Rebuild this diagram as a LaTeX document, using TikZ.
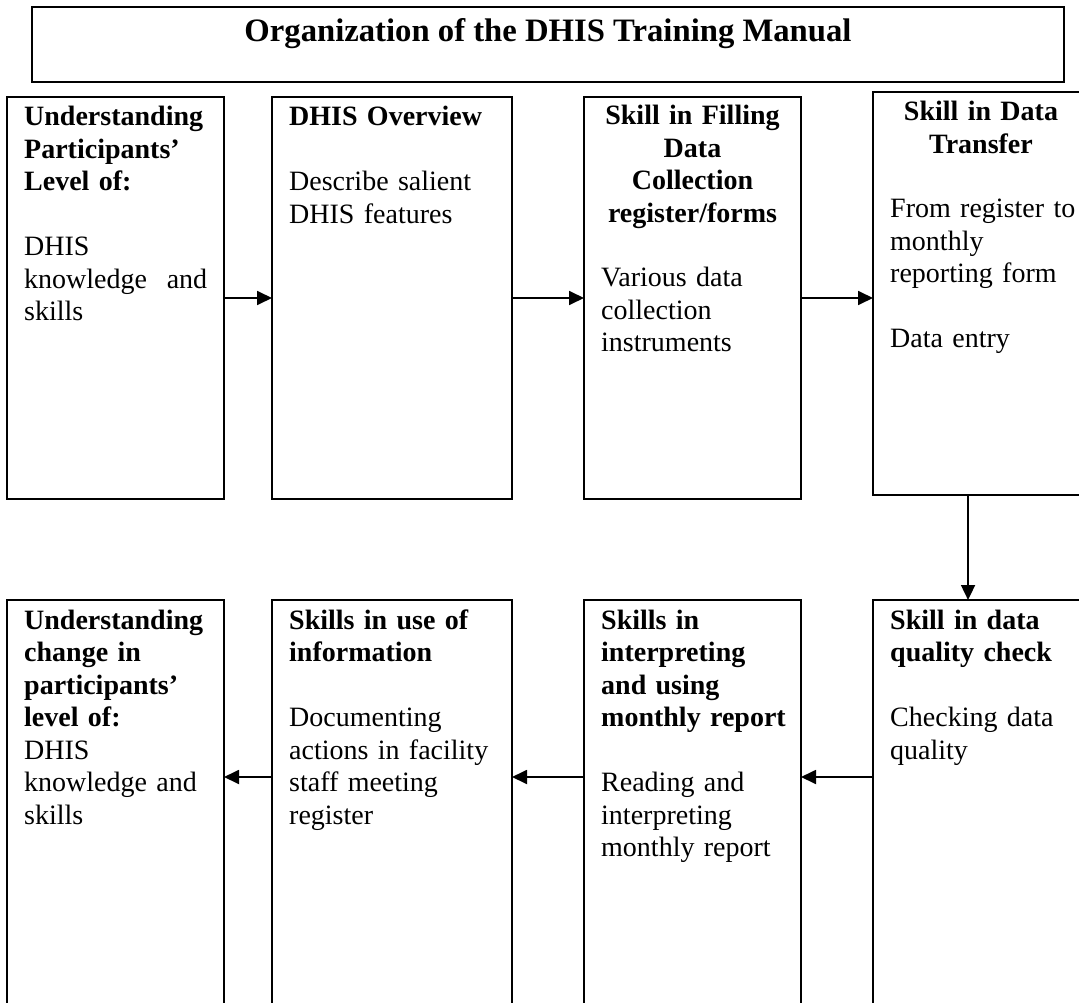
\documentclass[tikz,border=0pt]{standalone}
\usepackage{fontspec}
\setmainfont{Liberation Serif}
\usetikzlibrary{arrows.meta,calc}

\begin{document}
\begin{tikzpicture}[x=1pt,y=-1pt,
  box/.style={draw, line width=2pt, rectangle, inner sep=0pt, outer sep=0pt, anchor=north west},
  body/.style={anchor=base west, inner sep=0pt, align=left, text width=#1,
    font=\fontsize{28}{32.5}\selectfont},
  head/.style={anchor=base, inner sep=0pt, align=center, text width=#1,
    font=\fontsize{28}{32.5}\selectfont\bfseries},
  arr/.style={line width=1.8pt, -{Triangle[length=15pt,width=14pt]}},
]
\clip (0,0) rectangle (1079,1003);
\fill[white] (0,0) rectangle (1079,1003);

% title frame
\node[box, minimum width=1032pt, minimum height=75pt] (title) at (32,7) {};
\node[anchor=base, inner sep=0pt, font=\fontsize{32.7}{38}\selectfont\bfseries]
  (titletext) at ($(title.north)+(0,35)$) {Organization of the DHIS Training Manual};

% first row of stages
\node[box, minimum width=217pt, minimum height=402pt] (b1) at (7,97) {};
\node[box, minimum width=240pt, minimum height=402pt] (b2) at (272,97) {};
\node[box, minimum width=217pt, minimum height=402pt] (b3) at (584,97) {};
\node[box, minimum width=216pt, minimum height=403pt] (b4) at (873,92) {};

% second row of stages (running past the lower edge)
\node[box, minimum width=217pt, minimum height=420pt] (c1) at (7,600) {};
\node[box, minimum width=240pt, minimum height=420pt] (c2) at (272,600) {};
\node[box, minimum width=217pt, minimum height=420pt] (c3) at (584,600) {};
\node[box, minimum width=216pt, minimum height=420pt] (c4) at (873,600) {};

% texts, first row
\node[body=183pt] (t1) at (24,126) {\textbf{Understanding}\\ \textbf{Participants’}\\ \textbf{Level of:}\\[32.5pt]
  DHIS\\ knowledge\hfill and\\ skills};
\node[body=215pt] (t2) at (289,126) {\textbf{DHIS Overview}\\[32.5pt] Describe salient\\ DHIS features};
\node[head=210pt] (h3) at (692.5,125) {Skill in Filling\\ Data\\ Collection\\ register/forms};
\node[body=195pt] (t3) at (601,287) {Various data\\ collection\\ instruments};
\node[head=210pt] (h4) at (981,121) {Skill in Data\\ Transfer};
\node[body=210pt] (t4) at (890,218) {From register to\\ monthly\\ reporting form\\[32.5pt] Data entry};

% texts, second row
\node[body=195pt] (u1) at (24,629) {\textbf{Understanding}\\ \textbf{change in}\\ \textbf{participants’}\\ \textbf{level of:}\\
  DHIS\\ knowledge and\\ skills};
\node[body=215pt] (u2) at (289,629) {\textbf{Skills in use of}\\ \textbf{information}\\[32.5pt]
  Documenting\\ actions in facility\\ staff meeting\\ register};
\node[body=195pt] (u3) at (601,629) {\textbf{Skills in}\\ \textbf{interpreting}\\ \textbf{and using}\\ \textbf{monthly report}\\[32.5pt]
  Reading and\\ interpreting\\ monthly report};
\node[body=210pt] (u4) at (890,629) {\textbf{Skill in data}\\ \textbf{quality check}\\[32.5pt] Checking data\\ quality};

% connectors, first row
\draw[arr] (b1.east) -- (b2.west);
\draw[arr] (b2.east) -- (b3.west);
\draw[arr] (b3.east) -- (b3.east -| b4.west);

% down to the second row
\coordinate (down) at ($(b4.south west)!0.44!(b4.south east)$);
\draw[arr] (down) -- (down |- c4.north);

% connectors, second row (right to left)
\coordinate (back) at ($(c4.north west)+(0,177)$);
\draw[arr] (back) -- (back -| c3.east);
\draw[arr] (back -| c3.west) -- (back -| c2.east);
\draw[arr] (back -| c2.west) -- (back -| c1.east);
\end{tikzpicture}
\end{document}
